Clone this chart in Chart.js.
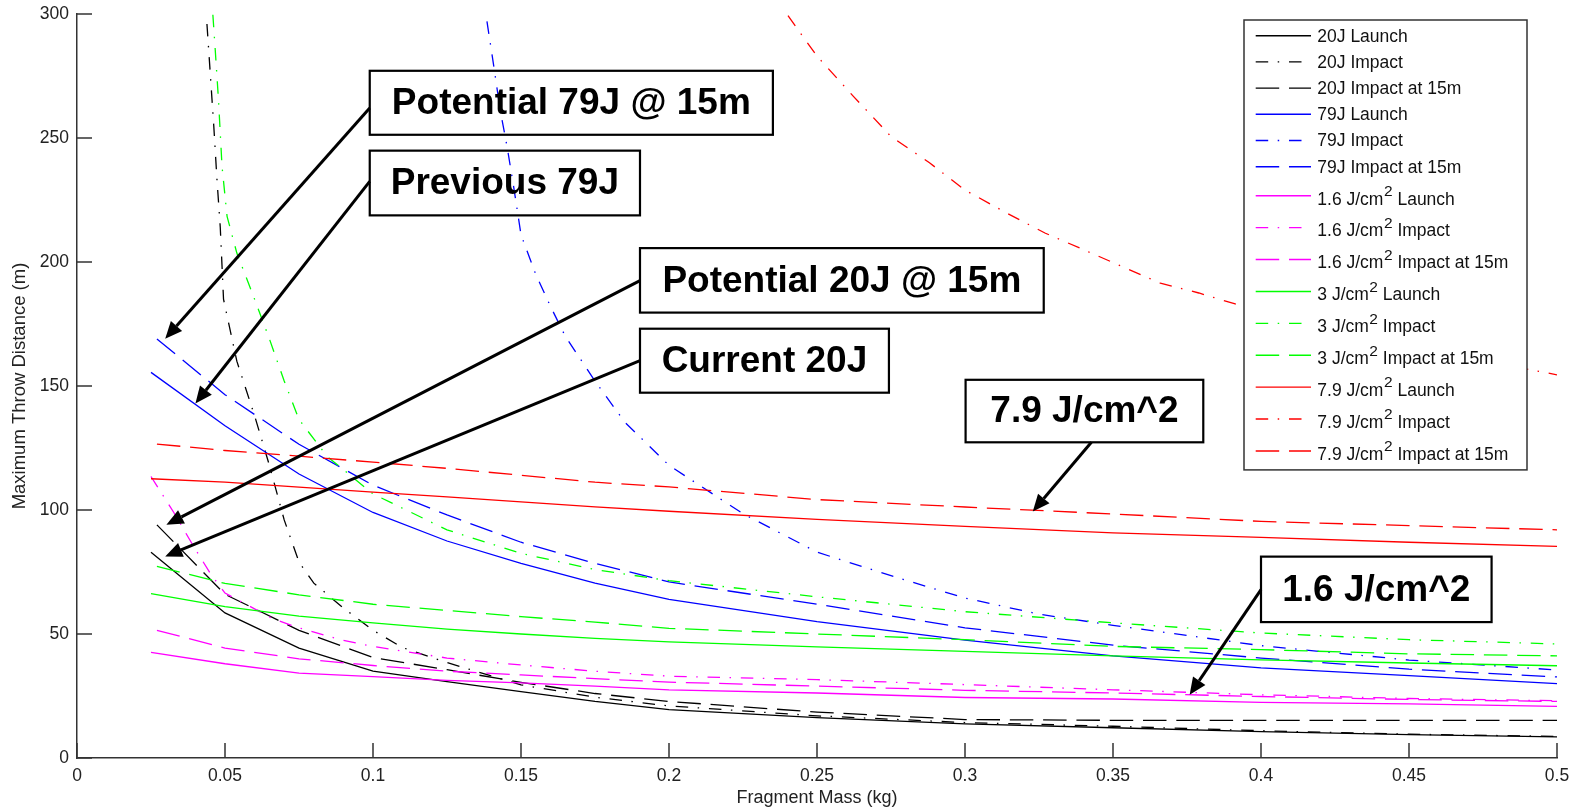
<!DOCTYPE html>
<html>
<head>
<meta charset="utf-8">
<title>Maximum Throw Distance vs Fragment Mass</title>
<script src="https://cdn.jsdelivr.net/npm/chart.js@4.4.1/dist/chart.umd.min.js"></script>
<style>
  html, body { margin: 0; padding: 0; background: #fff; }
  canvas { display: block; }
</style>
</head>
<body>
<canvas id="chart" width="1577" height="810"></canvas>
<script>
// ---- Fragment mass sample points (kg) ----
const massGrid   = [0.025, 0.05, 0.075, 0.1, 0.125, 0.15, 0.175, 0.2, 0.25, 0.3, 0.35, 0.4, 0.45, 0.5];
const massGrid15 = [0.027, 0.05, 0.075, 0.1, 0.125, 0.15, 0.175, 0.2, 0.25, 0.3, 0.35, 0.4, 0.45, 0.5];

// ---- 20 J ----
const launch20J     = [83, 58.5, 44.3, 35, 30.8, 26.8, 22.8, 19.5, 16.3, 13.8, 12.2, 10.6, 9.4, 8.5];
const impact20JMass = [0.0439, 0.0462, 0.0473, 0.0484, 0.0495, 0.054, 0.06, 0.065, 0.07, 0.075, 0.08, 0.09, 0.1, 0.11, 0.125, 0.15, 0.175, 0.2, 0.25, 0.3, 0.35, 0.4, 0.45, 0.5];
const impact20J     = [296, 255, 233, 214, 185, 160, 138, 118, 96, 79, 70.5, 60.5, 51.5, 44.5, 38.5, 29.5, 24.5, 21, 17, 14.3, 12.8, 11, 9.6, 8.7];
const impact15m20J  = [94, 66, 51.5, 40.5, 35.6, 30.5, 26, 22.8, 18.5, 15.5, 15.2, 15.2, 15.2, 15.2];

// ---- 79 J ----
const launch79J     = [155.5, 134, 114.5, 99, 87.5, 78.5, 70.5, 64, 55, 47.5, 41.2, 36.3, 33.2, 30];
const impact79JMass = [0.1385, 0.1408, 0.143, 0.1453, 0.1475, 0.15, 0.155, 0.16, 0.165, 0.175, 0.185, 0.2, 0.225, 0.25, 0.275, 0.3, 0.325, 0.35, 0.4, 0.45, 0.5];
const impact79J     = [297, 279, 261, 246.5, 230.5, 211, 195, 182, 170, 152, 135.5, 118, 98.5, 83, 73.5, 64.5, 58, 53.5, 45.3, 39.5, 35.5];
const impact15m79J  = [169, 146.5, 126.5, 110, 98, 87, 78.5, 71, 62, 52.5, 45.5, 40.3, 35.8, 32.7];

// ---- 1.6 J/cm² ----
const launch1p6     = [42.6, 38, 34.2, 32.8, 31.3, 30.3, 29, 27.5, 26.2, 24.4, 23.8, 22.4, 21.8, 20.8];
const impact1p6Mass = [0.025, 0.0327, 0.0394, 0.045, 0.05, 0.0563, 0.0664, 0.075, 0.089, 0.1, 0.125, 0.15, 0.175, 0.2, 0.25, 0.3, 0.35, 0.4, 0.45, 0.5];
const impact1p6     = [113.5, 99, 85.3, 74.5, 66.5, 62.5, 56, 52.5, 47.7, 45, 40.3, 37.5, 35, 33, 31.6, 29.6, 27.5, 25.5, 24, 23.1];
const impact15m1p6  = [51.5, 44.3, 40, 37.3, 35, 33.5, 32, 30.6, 29, 27.3, 26.2, 24.8, 23.6, 22.8];

// ---- 3 J/cm² ----
const launch3       = [66.3, 61, 57.2, 54.5, 52, 50, 48.2, 46.8, 44.8, 43, 41.2, 39.6, 38.3, 37.2];
const impact3Mass   = [0.0459, 0.0467, 0.0478, 0.049, 0.0507, 0.054, 0.06, 0.065, 0.07, 0.075, 0.0845, 0.1, 0.125, 0.15, 0.175, 0.2, 0.25, 0.3, 0.35, 0.4, 0.45, 0.5];
const impact3       = [299.7, 285.6, 265.4, 238.5, 218.4, 203.6, 185, 169, 152, 136.5, 121.6, 106.5, 92, 82.5, 76, 71.5, 65, 59, 54.5, 50.4, 47.7, 46];
const impact15m3    = [77.3, 70.4, 65.8, 62, 59.5, 57, 54.8, 52.3, 50, 47.7, 45, 43.7, 42, 41.2];

// ---- 7.9 J/cm² ----
const launch7p9     = [112.6, 111.2, 109.2, 107.2, 105.3, 103.3, 101.3, 99.5, 96.2, 93.4, 90.8, 89, 87, 85.3];
const impact7p9Mass = [0.2402, 0.25, 0.2623, 0.275, 0.288, 0.3, 0.314, 0.327, 0.34, 0.353, 0.366, 0.379, 0.391, 0.4, 0.45, 0.5];
const impact7p9     = [299.3, 283, 266.8, 250.6, 240, 229, 219.8, 211.7, 205, 198.2, 191.5, 187.5, 183.2, 180, 166, 154.5];
const impact15m7p9  = [126.6, 124, 121.7, 119.3, 116.8, 114, 111.2, 109.3, 104.2, 101.2, 98.4, 95.4, 93.7, 92];

// ---- Axis ticks ----
const massTickValues = [0, 0.05, 0.1, 0.15, 0.2, 0.25, 0.3, 0.35, 0.4, 0.45, 0.5];
const massTickLabels = ['0', '0.05', '0.1', '0.15', '0.2', '0.25', '0.3', '0.35', '0.4', '0.45', '0.5'];
const distTickValues = [0, 50, 100, 150, 200, 250, 300];
const distTickLabels = ['0', '50', '100', '150', '200', '250', '300'];

// ---- Styling ----
const FONT = '"Liberation Sans", Arial, Helvetica, sans-serif';
const DASH = {
  solid: [],
  dashdot: [12.5, 9.5, 1.5, 9.8],
  dashed: [23.5, 9.8]
};
const BLACK = '#000000', BLUE = '#0000ff', MAGENTA = '#ff00ff', GREEN = '#00ff00', RED = '#ff0000';

const seriesDefs = [
  { label: '20J Launch',              color: BLACK,   style: 'solid',   xs: massGrid,      ys: launch20J },
  { label: '20J Impact',              color: BLACK,   style: 'dashdot', xs: impact20JMass, ys: impact20J },
  { label: '20J Impact at 15m',       color: BLACK,   style: 'dashed',  xs: massGrid15,    ys: impact15m20J },
  { label: '79J Launch',              color: BLUE,    style: 'solid',   xs: massGrid,      ys: launch79J },
  { label: '79J Impact',              color: BLUE,    style: 'dashdot', xs: impact79JMass, ys: impact79J },
  { label: '79J Impact at 15m',       color: BLUE,    style: 'dashed',  xs: massGrid15,    ys: impact15m79J },
  { label: '1.6 J/cm² Launch',        color: MAGENTA, style: 'solid',   xs: massGrid,      ys: launch1p6 },
  { label: '1.6 J/cm² Impact',        color: MAGENTA, style: 'dashdot', xs: impact1p6Mass, ys: impact1p6 },
  { label: '1.6 J/cm² Impact at 15m', color: MAGENTA, style: 'dashed',  xs: massGrid15,    ys: impact15m1p6 },
  { label: '3 J/cm² Launch',          color: GREEN,   style: 'solid',   xs: massGrid,      ys: launch3 },
  { label: '3 J/cm² Impact',          color: GREEN,   style: 'dashdot', xs: impact3Mass,   ys: impact3 },
  { label: '3 J/cm² Impact at 15m',   color: GREEN,   style: 'dashed',  xs: massGrid15,    ys: impact15m3 },
  { label: '7.9 J/cm² Launch',        color: RED,     style: 'solid',   xs: massGrid,      ys: launch7p9 },
  { label: '7.9 J/cm² Impact',        color: RED,     style: 'dashdot', xs: impact7p9Mass, ys: impact7p9 },
  { label: '7.9 J/cm² Impact at 15m', color: RED,     style: 'dashed',  xs: massGrid15,    ys: impact15m7p9 }
];

// Callout boxes: box = [massLeft, distTop, massRight, distBottom]; arrow from -> to in data units
const callouts = [
  { text: 'Potential 79J @ 15m', box: [0.0989, 277.1, 0.2351, 251.3], from: [0.0989, 262.1], to: [0.0298, 169.1] },
  { text: 'Previous 79J',        box: [0.0989, 244.9, 0.1902, 218.8], from: [0.0989, 232.5], to: [0.0400, 142.9] },
  { text: 'Potential 20J @ 15m', box: [0.1902, 205.6, 0.3266, 179.6], from: [0.1902, 192.5], to: [0.0302, 94.1] },
  { text: 'Current 20J',         box: [0.1902, 173.1, 0.2743, 147.3], from: [0.1902, 160.2], to: [0.0298, 81.3] },
  { text: '7.9 J/cm^2',          box: [0.3002, 152.5, 0.3805, 127.3], from: [0.3427, 127.3], to: [0.3229, 99.4] },
  { text: '1.6 J/cm^2',          box: [0.4000, 81.2, 0.4779, 54.8],   from: [0.4000, 67.9],  to: [0.3759, 25.5] }
];

const datasets = seriesDefs.map((s, i) => ({
  label: s.label,
  data: s.xs.map((x, k) => ({ x: x, y: s.ys[k] })),
  showLine: true,
  borderColor: s.color,
  backgroundColor: s.color,
  borderWidth: 1.3,
  borderDash: DASH[s.style],
  pointRadius: 0,
  pointHoverRadius: 0,
  tension: 0,
  fill: false,
  order: -i
}));

// Tick marks drawn on the inside of the axes
const inwardTicks = {
  id: 'inwardTicks',
  afterDatasetsDraw(chart) {
    const { ctx, chartArea: a, scales: { x, y } } = chart;
    const len = 15;
    ctx.save();
    ctx.strokeStyle = '#333333';
    ctx.lineWidth = 1.5;
    ctx.beginPath();
    x.ticks.forEach(t => {
      const px = x.getPixelForValue(t.value);
      ctx.moveTo(px, a.bottom);
      ctx.lineTo(px, a.bottom - len);
    });
    y.ticks.forEach(t => {
      const py = y.getPixelForValue(t.value);
      ctx.moveTo(a.left, py);
      ctx.lineTo(a.left + len, py);
    });
    ctx.stroke();
    ctx.restore();
  }
};

// Draws text, rendering "²" as a raised digit
function drawLabel(ctx, text, x, y, size) {
  const parts = text.split('²');
  ctx.textBaseline = 'middle';
  ctx.textAlign = 'left';
  let cx = x;
  parts.forEach((p, i) => {
    ctx.font = size + 'px ' + FONT;
    ctx.fillText(p, cx, y);
    cx += ctx.measureText(p).width;
    if (i < parts.length - 1) {
      ctx.font = (size - 2) + 'px ' + FONT;
      ctx.fillText('2', cx + 0.5, y - 8);
      cx += ctx.measureText('2').width + 0.5;
    }
  });
}

// Legend box inside the upper-right of the plot area
const insetLegend = {
  id: 'insetLegend',
  afterDatasetsDraw(chart) {
    const { ctx, chartArea: a } = chart;
    const left = a.right - 313, top = a.top + 6, width = 283;
    const plainH = 26.2, supH = 31.9;
    const rows = [];
    let yy = top + 2.6;
    chart.data.datasets.forEach((ds, i) => {
      const h = ds.label.includes('²') ? supH : plainH;
      rows.push({ ds: ds, y: yy + h / 2, sup: h === supH, style: seriesDefs[i].style });
      yy += h;
    });
    const height = yy + 3 - top;
    ctx.save();
    ctx.fillStyle = '#ffffff';
    ctx.fillRect(left, top, width, height);
    ctx.strokeStyle = '#333333';
    ctx.lineWidth = 1.5;
    ctx.strokeRect(left, top, width, height);
    rows.forEach(r => {
      ctx.beginPath();
      ctx.setLineDash(DASH[r.style]);
      ctx.strokeStyle = r.ds.borderColor;
      ctx.lineWidth = 1.4;
      ctx.moveTo(left + 11.7, r.y);
      ctx.lineTo(left + 67, r.y);
      ctx.stroke();
      ctx.setLineDash([]);
      ctx.fillStyle = '#111111';
      drawLabel(ctx, r.ds.label, left + 73.3, r.sup ? r.y + 4 : r.y + 1, 17.5);
    });
    ctx.restore();
  }
};

// Bold text callouts with arrows pointing at curves
const calloutPlugin = {
  id: 'callouts',
  afterDatasetsDraw(chart) {
    const { ctx, scales: { x, y } } = chart;
    ctx.save();
    callouts.forEach(c => {
      const x0 = x.getPixelForValue(c.box[0]), y0 = y.getPixelForValue(c.box[1]);
      const x1 = x.getPixelForValue(c.box[2]), y1 = y.getPixelForValue(c.box[3]);
      ctx.strokeStyle = '#000';
      ctx.lineWidth = 2.2;
      ctx.strokeRect(x0, y0, x1 - x0, y1 - y0);
      ctx.fillStyle = '#000';
      ctx.font = 'bold 37px ' + FONT;
      ctx.textAlign = 'center';
      ctx.textBaseline = 'middle';
      ctx.fillText(c.text, (x0 + x1) / 2, (y0 + y1) / 2 + 1);

      const fx = x.getPixelForValue(c.from[0]), fy = y.getPixelForValue(c.from[1]);
      const tx = x.getPixelForValue(c.to[0]), ty = y.getPixelForValue(c.to[1]);
      const ang = Math.atan2(ty - fy, tx - fx);
      const headLen = 17, headHalf = 7.5;
      const bx = tx - headLen * Math.cos(ang), by = ty - headLen * Math.sin(ang);
      ctx.lineWidth = 3;
      ctx.beginPath();
      ctx.moveTo(fx, fy);
      ctx.lineTo(bx, by);
      ctx.stroke();
      ctx.beginPath();
      ctx.moveTo(tx, ty);
      ctx.lineTo(bx + headHalf * Math.sin(ang), by - headHalf * Math.cos(ang));
      ctx.lineTo(bx - headHalf * Math.sin(ang), by + headHalf * Math.cos(ang));
      ctx.closePath();
      ctx.fill();
    });
    ctx.restore();
  }
};

const tickFont = { family: FONT, size: 17.5 };
const textColor = '#222222';

new Chart(document.getElementById('chart'), {
  type: 'scatter',
  data: { datasets: datasets },
  options: {
    responsive: false,
    animation: false,
    devicePixelRatio: 1,
    events: [],
    layout: { padding: { top: 14, right: 20, left: 0, bottom: 0 } },
    plugins: {
      legend: { display: false },
      tooltip: { enabled: false }
    },
    scales: {
      x: {
        type: 'linear',
        min: 0,
        max: 0.5,
        afterBuildTicks: s => { s.ticks = massTickValues.map(v => ({ value: v })); },
        afterFit: s => { s.height = 52; s.paddingLeft = 0; s.paddingRight = 0; },
        grid: { display: false, drawTicks: false, tickLength: 0 },
        border: { display: true, color: '#333333', width: 1.5 },
        ticks: {
          autoSkip: false,
          maxRotation: 0,
          padding: 8,
          color: textColor,
          font: tickFont,
          callback: (v, i) => massTickLabels[i]
        },
        title: {
          display: true,
          text: 'Fragment Mass (kg)',
          color: textColor,
          font: { family: FONT, size: 18 },
          padding: { top: 0, bottom: 1 }
        }
      },
      y: {
        type: 'linear',
        min: 0,
        max: 300,
        afterBuildTicks: s => { s.ticks = distTickValues.map(v => ({ value: v })); },
        afterFit: s => { s.width = 77; s.paddingTop = 0; s.paddingBottom = 0; },
        grid: { display: false, drawTicks: false, tickLength: 0 },
        border: { display: true, color: '#333333', width: 1.5 },
        ticks: {
          autoSkip: false,
          padding: 8,
          color: textColor,
          font: tickFont,
          callback: (v, i) => distTickLabels[i]
        },
        title: {
          display: true,
          text: 'Maximum Throw Distance (m)',
          color: textColor,
          font: { family: FONT, size: 18.5 },
          padding: { top: 9, bottom: 0 }
        }
      }
    }
  },
  plugins: [inwardTicks, insetLegend, calloutPlugin]
});
</script>
</body>
</html>
